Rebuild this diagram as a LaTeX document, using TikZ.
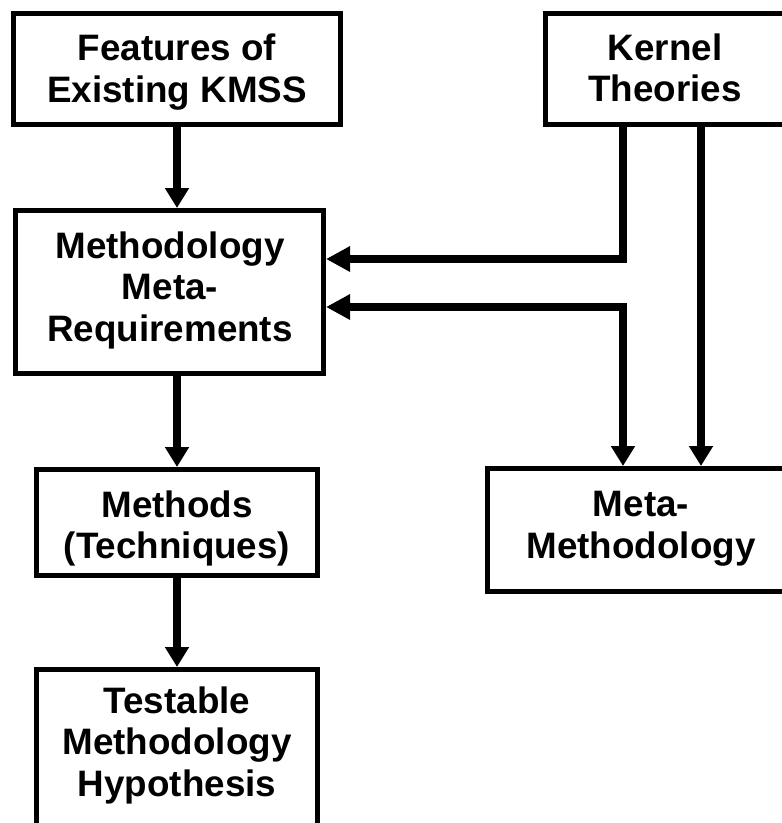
\documentclass[tikz,border=0pt]{standalone}
\usepackage{fontspec}
\setmainfont{Liberation Sans}
\usetikzlibrary{arrows.meta}
\begin{document}
\begin{tikzpicture}[x=1pt,y=-1pt,
  box/.style={draw, line width=5pt, inner sep=0pt},
  txt/.style={align=center, inner sep=0pt,
    font=\bfseries\fontsize{36.8}{41.5}\selectfont},
  conn/.style={line width=7.5pt, line join=miter},
  vtip/.style={-{Triangle[width=23pt,length=20pt]}},
  htip/.style={-{Triangle[width=24pt,length=24pt]}},
  bitip/.style={{Triangle[width=24pt,length=24pt]}-{Triangle[width=23pt,length=20pt]}}]
\useasboundingbox (0,0) rectangle (782,823);
\clip (0,0) rectangle (782,823);
\fill[white] (0,0) rectangle (782,823);
% boxes
\node[box, minimum width=327pt, minimum height=111pt] (feat) at (177,69) {};
\node[box, minimum width=308pt, minimum height=163pt] (req) at (169.5,292) {};
\node[box, minimum width=281pt, minimum height=106pt] (meth) at (177,522.5) {};
\node[box, minimum width=281pt, minimum height=158pt] (test) at (177,748.5) {};
\node[box, minimum width=239pt, minimum height=111pt] (kern) at (665,69) {};
\node[box, minimum width=307pt, minimum height=123pt] (mm) at (641,530) {};
% texts
\node[txt] (featT) at (177,72.3) {Features of\\Existing KMSS};
\node[txt] (reqT) at (170,290) {Methodology\\Meta-\\Requirements};
\node[txt] (methT) at (177,528.3) {Methods\\(Techniques)};
\node[txt] (testT) at (177,745) {Testable\\Methodology\\Hypothesis};
\node[txt] (kernT) at (665,68) {Kernel\\Theories};
\node[txt] (mmT) at (641,528.5) {Meta-\\Methodology};
% connectors
\coordinate (kx1) at (623,0);
\coordinate (kx2) at (701,0);
\coordinate (ry1) at (0,259);
\coordinate (ry2) at (0,307);
\draw[conn,vtip] (feat.south) -- (feat.south |- req.north);
\draw[conn,vtip] (meth.north |- req.south) -- (meth.north);
\draw[conn,vtip] (meth.south) -- (test.north);
\draw[conn,htip] (kern.south -| kx1) -- (kx1 |- ry1) -- (req.east |- ry1);
\draw[conn,vtip] (kern.south -| kx2) -- (mm.north -| kx2);
\draw[conn,bitip] (req.east |- ry2) -- (kx1 |- ry2) -- (mm.north -| kx1);
\end{tikzpicture}
\end{document}
